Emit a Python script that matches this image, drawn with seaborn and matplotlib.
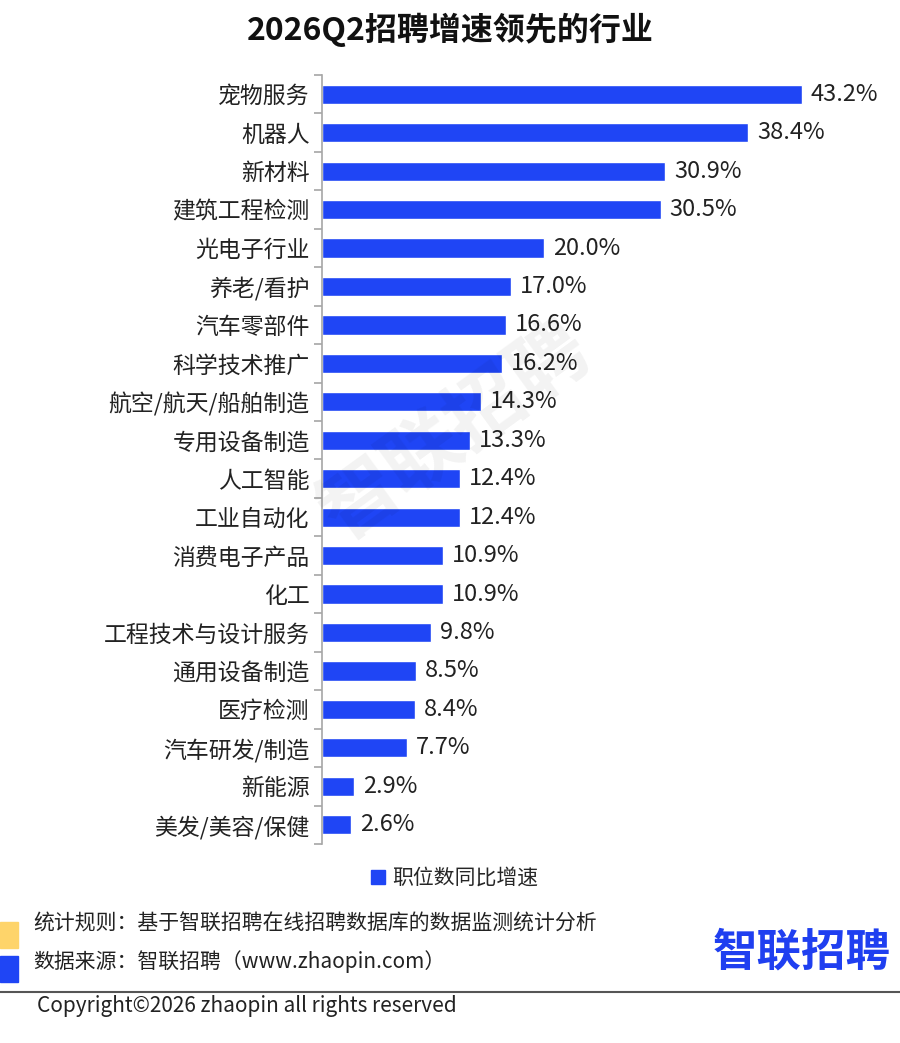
import numpy as np
import pandas as pd
import matplotlib.pyplot as plt
import seaborn as sns
from matplotlib.lines import Line2D
from matplotlib.patches import Rectangle

industries = ["宠物服务", "机器人", "新材料", "建筑工程检测", "光电子行业", "养老/看护",
              "汽车零部件", "科学技术推广", "航空/航天/船舶制造", "专用设备制造", "人工智能",
              "工业自动化", "消费电子产品", "化工", "工程技术与设计服务", "通用设备制造",
              "医疗检测", "汽车研发/制造", "新能源", "美发/美容/保健"]
growth = [43.2, 38.4, 30.9, 30.5, 20.0, 17.0, 16.6, 16.2, 14.3, 13.3, 12.4,
          12.4, 10.9, 10.9, 9.8, 8.5, 8.4, 7.7, 2.9, 2.6]

df = pd.DataFrame({"industry": industries, "growth": growth})

sns.set_style("white")
plt.rcParams['font.family'] = ['Noto Sans CJK SC', 'DejaVu Sans']

BLUE = "#1f45f5"
TXT = "#222222"

fig = plt.figure(figsize=(9, 10.43), dpi=100)
ax = fig.add_axes([322 / 900, 1 - 844 / 1043, 555 / 900, 769 / 1043])

sns.barplot(data=df, y="industry", x="growth", orient="h", color=BLUE,
            width=0.5, saturation=1, ax=ax)

ax.set_xlim(0, 50)
ax.set_ylim(len(df) - 0.5, -0.5)
ax.set_xlabel("")
ax.set_ylabel("")
ax.set_xticks([])
for s in ["top", "right", "bottom"]:
    ax.spines[s].set_visible(False)
ax.spines["left"].set_color("#a6a6a6")
ax.spines["left"].set_linewidth(1.2)

ax.tick_params(axis="y", which="major", left=False, length=0, pad=9,
               labelsize=16.5, labelcolor=TXT)
ax.set_yticks(np.arange(-0.5, len(df), 1), minor=True)
ax.tick_params(axis="y", which="minor", left=True, length=6, color="#a6a6a6", width=1.2)

for i, v in enumerate(df["growth"]):
    ax.text(v + 0.8, i, f"{v:.1f}%", va="center", ha="left", fontsize=17, color=TXT)

# title
fig.text(0.5, 1 - 30 / 1043, "2026Q2招聘增速领先的行业", ha="center", va="center",
         fontsize=23, fontweight="bold", color="#111111")

# watermark
fig.text(455 / 900, 1 - 432 / 1043, "智联招聘", ha="center", va="center", fontsize=56,
         fontweight="bold", color="#000000", alpha=0.05, rotation=36)

# legend
handle = Line2D([], [], marker="s", linestyle="", color=BLUE, markersize=10)
fig.legend([handle], ["职位数同比增速"], loc="center", bbox_to_anchor=(453 / 900, 1 - 878 / 1043),
           frameon=False, fontsize=15, handletextpad=0.2, handlelength=1.0)

# footer
fig.patches.append(Rectangle((0, 1 - 948 / 1043), 18 / 900, 26 / 1043,
                             transform=fig.transFigure, color="#fed46a"))
fig.patches.append(Rectangle((0, 1 - 982 / 1043), 18 / 900, 26 / 1043,
                             transform=fig.transFigure, color=BLUE))
fig.text(33 / 900, 1 - 924 / 1043, "统计规则：基于智联招聘在线招聘数据库的数据监测统计分析",
         ha="left", va="center", fontsize=15, color=TXT)
fig.text(33 / 900, 1 - 962 / 1043, "数据来源：智联招聘（www.zhaopin.com）",
         ha="left", va="center", fontsize=15, color=TXT)
fig.text(802 / 900, 1 - 953 / 1043, "智联招聘", ha="center", va="center",
         fontsize=32, fontweight="bold", color="#1f3ff0")
fig.add_artist(Line2D([0, 1], [1 - 992 / 1043] * 2, color="#555555", linewidth=1.5,
                      transform=fig.transFigure))
fig.text(37 / 900, 1 - 1006 / 1043, "Copyright©2026 zhaopin all rights reserved",
         ha="left", va="center", fontsize=15, color=TXT)

fig.savefig("out.png", dpi=100, facecolor="white")
